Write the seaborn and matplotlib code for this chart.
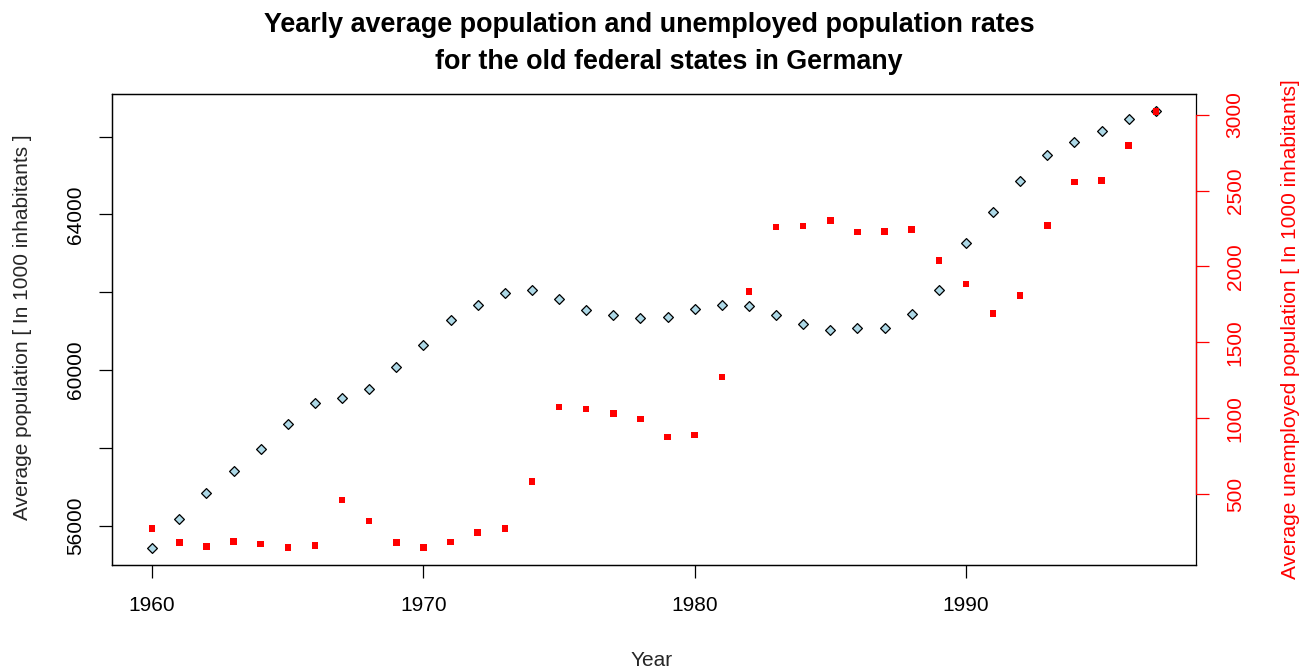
import matplotlib
matplotlib.use("Agg")
import matplotlib.pyplot as plt
import seaborn as sns
import pandas as pd

# ---- data ----
years = list(range(1960, 1998))
population = [55433, 56175, 56837, 57389, 57971, 58619, 59148, 59286, 59500, 60067,
              60651, 61284, 61672, 61976, 62054, 61829, 61531, 61400, 61326, 61359,
              61566, 61682, 61638, 61423, 61175, 61024, 61066, 61077, 61450, 62063,
              63254, 64074, 64865, 65534, 65858, 66156, 66444, 66647]
unemployed = [271, 181, 155, 186, 169, 147, 161, 459, 323, 179,
              149, 185, 246, 273, 582, 1074, 1060, 1030, 993, 876,
              889, 1272, 1833, 2258, 2266, 2304, 2228, 2229, 2242, 2038,
              1883, 1689, 1808, 2270, 2556, 2565, 2796, 3021]

x_ticks = [1960, 1970, 1980, 1990]
left_ticks = [56000, 58000, 60000, 62000, 64000, 66000]
left_labels = ["56000", "", "60000", "", "64000", ""]
right_ticks = [500, 1000, 1500, 2000, 2500, 3000]
right_labels = ["500", "1000", "1500", "2000", "2500", "3000"]

title_line1 = "Yearly average population and unemployed population rates"
title_line2 = "for the old federal states in Germany"
x_label = "Year"
left_label = "Average population [ In 1000 inhabitants ]"
right_label = "Average unemployed population [ In 1000 inhabitants]"

df = pd.DataFrame({"year": years, "population": population, "unemployed": unemployed})

sns.set_theme(style="white")
plt.rcParams["font.family"] = ["Liberation Sans", "DejaVu Sans"]

W, H = 1314, 671
fig = plt.figure(figsize=(W / 100, H / 100), dpi=100)
fig.patch.set_facecolor("white")

L, R, T, B = 112, 1196, 94, 565
ax = fig.add_axes([L / W, 1 - B / H, (R - L) / W, (B - T) / H])
ax.set_facecolor("white")

def padded(vals):
    lo, hi = min(vals), max(vals)
    p = 0.04 * (hi - lo)
    return lo - p, hi + p

sns.scatterplot(data=df, x="year", y="population", ax=ax, marker="D",
                color="#ADD8E6", edgecolor="black", linewidth=0.9, s=25, zorder=3)
ax.set_xlim(padded(years))
ax.set_ylim(padded(population))
ax.set_xlabel("")
ax.set_ylabel("")

ax2 = ax.twinx()
sns.scatterplot(data=df, x="year", y="unemployed", ax=ax2, marker="s",
                color="red", edgecolor="none", linewidth=0, s=22, zorder=4)
ax2.set_ylim(padded(unemployed))
ax2.set_ylabel("")

for a in (ax, ax2):
    for sp in a.spines.values():
        sp.set_color("black")
        sp.set_linewidth(0.9)
ax2.spines["right"].set_bounds(500, 3000)
ax2.spines["right"].set_color("red")
ax2.spines["right"].set_zorder(5)

ax.set_xticks(x_ticks)
ax.set_xticklabels([str(v) for v in x_ticks], fontsize=15)
ax.set_yticks(left_ticks)
ax.set_yticklabels(left_labels, fontsize=15, rotation=90, va="center")
ax.tick_params(axis="x", direction="out", length=9.4, width=0.9, color="black",
               pad=13, labelcolor="black", bottom=True)
ax.tick_params(axis="y", direction="out", length=9.4, width=0.9, color="black",
               pad=10, labelcolor="black", left=True)

ax2.set_yticks(right_ticks)
ax2.set_yticklabels(right_labels, fontsize=15, rotation=90, va="center")
ax2.tick_params(axis="y", direction="out", length=9.4, width=0.9, color="red",
                pad=12, labelcolor="red", right=True)

ax.grid(False)
ax2.grid(False)

fig.text(649 / W, 1 - 32 / H, title_line1, ha="center", va="baseline",
         fontsize=19.4, fontweight="bold", color="black")
fig.text(668.5 / W, 1 - 69 / H, title_line2, ha="center", va="baseline",
         fontsize=19.4, fontweight="bold", color="black")
fig.text(652 / W, 1 - 666 / H, x_label, ha="center", va="baseline", fontsize=15)
fig.text(23 / W, 1 - 327 / H, left_label, ha="center", va="center",
         rotation=90, fontsize=15)
fig.text(1291 / W, 1 - 329.5 / H, right_label, ha="center", va="center",
         rotation=90, fontsize=15, color="red")

fig.savefig("out.png", dpi=100, facecolor="white")
